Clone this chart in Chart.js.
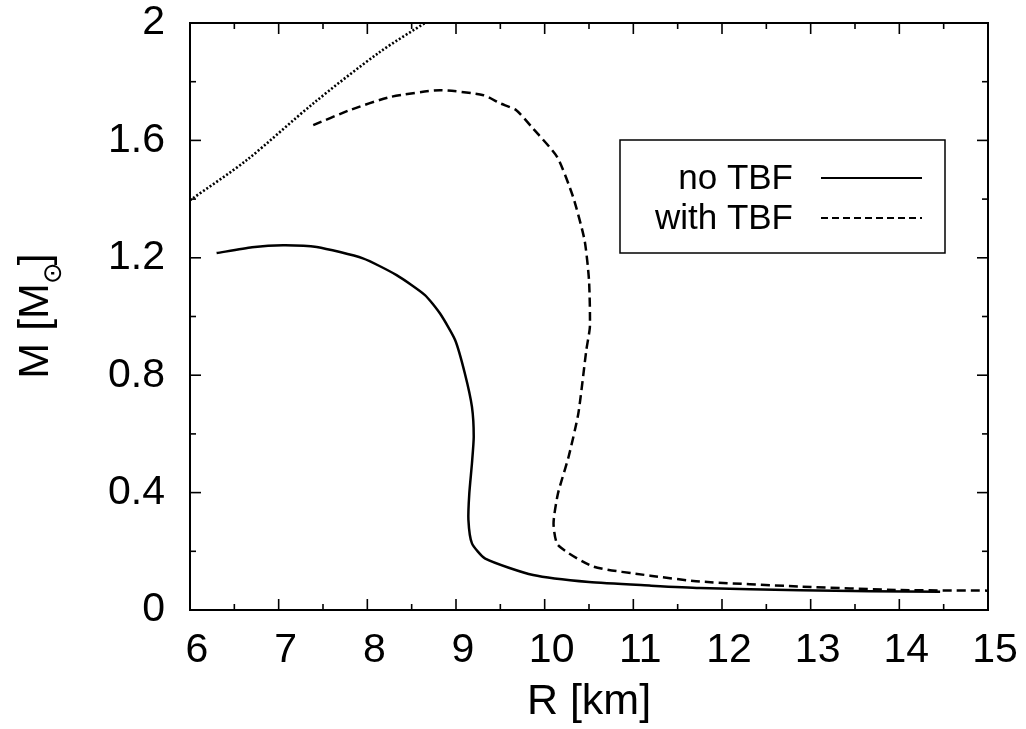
<!DOCTYPE html>
<html>
<head>
<meta charset="utf-8">
<title>Mass-radius relation</title>
<script src="https://cdn.jsdelivr.net/npm/chart.js@4.4.1/dist/chart.umd.min.js"></script>
<style>
  html, body { margin: 0; padding: 0; background: #fff; }
  #wrap { width: 1026px; height: 729px; position: relative; }
</style>
</head>
<body>
<div id="wrap"><canvas id="mrChart"></canvas></div>
<script>
const FONT = '"Liberation Sans", Arial, Helvetica, sans-serif';

// Radius [km] / mass [Msun]
const noTbfR = [6.30, 6.70, 7.05, 7.43, 7.95, 8.33, 8.65, 8.82, 8.99, 9.10, 9.18, 9.20, 9.18, 9.15, 9.14, 9.18, 9.33, 9.87, 10.50, 11.20, 11.75, 12.88, 14.46];
const noTbfM = [1.216, 1.236, 1.243, 1.237, 1.198, 1.141, 1.073, 1.010, 0.920, 0.806, 0.692, 0.590, 0.500, 0.397, 0.307, 0.227, 0.175, 0.119, 0.095, 0.083, 0.075, 0.067, 0.062];

const withTbfR = [7.39, 7.80, 8.26, 8.82, 9.31, 9.50, 9.68, 9.87, 10.14, 10.32, 10.45, 10.50, 10.51, 10.47, 10.38, 10.27, 10.15, 10.10, 10.15, 10.55, 11.19, 11.75, 12.88, 14.01, 14.99];
const withTbfM = [1.652, 1.703, 1.748, 1.771, 1.754, 1.726, 1.703, 1.640, 1.544, 1.408, 1.260, 1.124, 0.965, 0.886, 0.670, 0.522, 0.397, 0.295, 0.221, 0.148, 0.117, 0.097, 0.080, 0.068, 0.066];

// dotted limit line in the upper left corner
const limitR = [6.00, 6.64, 7.39, 8.14, 8.67];
const limitM = [1.396, 1.533, 1.726, 1.901, 2.004];

const seriesLabels = ['no TBF', 'with TBF'];

const xTickValues = [6, 7, 8, 9, 10, 11, 12, 13, 14, 15];
const xMinorTicks = [6.5, 7.5, 8.5, 9.5, 10.5, 11.5, 12.5, 13.5, 14.5];
const yTickValues = [0, 0.4, 0.8, 1.2, 1.6, 2];
const yMinorTicks = [0.2, 0.6, 1.0, 1.4, 1.8];

const toPoints = (xs, ys) => xs.map((x, i) => ({ x: x, y: ys[i] }));

// gnuplot style frame with inward ticks on all four sides
const framePlugin = {
    id: 'frameTicks',
    afterDatasetsDraw(chart) {
        const c = chart.ctx;
        const a = chart.chartArea;
        const xs = chart.scales.x;
        const ys = chart.scales.y;
        c.save();
        c.strokeStyle = '#000';
        c.lineWidth = 1.6;
        const tick = (x1, y1, x2, y2) => {
            c.beginPath();
            c.moveTo(x1, y1);
            c.lineTo(x2, y2);
            c.stroke();
        };
        const xMarks = xTickValues.map(v => [v, 11]).concat(xMinorTicks.map(v => [v, 6]));
        xMarks.forEach(([v, len]) => {
            const px = xs.getPixelForValue(v);
            tick(px, a.bottom, px, a.bottom - len);
            tick(px, a.top, px, a.top + len);
        });
        const yMarks = yTickValues.map(v => [v, 11]).concat(yMinorTicks.map(v => [v, 6]));
        yMarks.forEach(([v, len]) => {
            const py = ys.getPixelForValue(v);
            tick(a.left, py, a.left + len, py);
            tick(a.right, py, a.right - len, py);
        });
        c.lineWidth = 2;
        c.strokeRect(a.left, a.top, a.right - a.left, a.bottom - a.top);
        c.restore();
    }
};

// boxed legend, text on the left and line sample on the right
const legendPlugin = {
    id: 'boxLegend',
    afterDraw(chart) {
        const c = chart.ctx;
        c.save();
        c.strokeStyle = '#000';
        c.lineWidth = 1.5;
        c.strokeRect(620, 140, 325, 113);
        c.fillStyle = '#000';
        c.font = `35px ${FONT}`;
        c.textAlign = 'right';
        c.textBaseline = 'middle';
        const rows = [178, 218];
        chart.data.datasets.slice(0, 2).forEach((ds, i) => {
            c.fillText(ds.label, 793, rows[i] + 1);
            c.beginPath();
            c.lineWidth = 2.2;
            c.setLineDash(i === 0 ? [] : [7, 4]);
            c.moveTo(821, rows[i]);
            c.lineTo(922, rows[i]);
            c.stroke();
        });
        c.restore();
    }
};

// y title with the solar symbol as subscript
const yTitlePlugin = {
    id: 'yTitle',
    afterDraw(chart) {
        const c = chart.ctx;
        const big = `43px ${FONT}`;
        const small = `26px "DejaVu Sans", ${FONT}`;
        c.save();
        c.translate(48, 316);
        c.rotate(-Math.PI / 2);
        c.fillStyle = '#000';
        c.textBaseline = 'alphabetic';
        c.textAlign = 'left';
        c.font = big;
        const w1 = c.measureText('M [M').width;
        const w3 = c.measureText(']').width;
        c.font = small;
        const w2 = c.measureText('\u2299').width;
        let x = -(w1 + w2 + w3 - 4) / 2;
        c.font = big;
        c.fillText('M [M', x, 0);
        x += w1 - 1;
        c.font = small;
        c.fillText('\u2299', x, 13);
        x += w2 - 3;
        c.font = big;
        c.fillText(']', x, 0);
        c.restore();
    }
};

const ctx = document.getElementById('mrChart').getContext('2d');
const chart = new Chart(ctx, {
    type: 'scatter',
    data: {
        datasets: [
            {
                label: seriesLabels[0],
                data: toPoints(noTbfR, noTbfM),
                showLine: true,
                borderColor: '#000',
                borderWidth: 2.5,
                pointRadius: 0,
                tension: 0.2
            },
            {
                label: seriesLabels[1],
                data: toPoints(withTbfR, withTbfM),
                showLine: true,
                borderColor: '#000',
                borderWidth: 2.5,
                borderDash: [9, 5],
                pointRadius: 0,
                tension: 0.2
            },
            {
                label: '',
                data: toPoints(limitR, limitM),
                showLine: true,
                borderColor: '#000',
                borderWidth: 2.6,
                borderDash: [2, 2],
                pointRadius: 0,
                tension: 0.3
            }
        ]
    },
    options: {
        responsive: true,
        maintainAspectRatio: false,
        animation: false,
        layout: { padding: { left: 0, top: 23, right: 38, bottom: 0 } },
        plugins: {
            legend: { display: false },
            tooltip: { enabled: false }
        },
        scales: {
            x: {
                type: 'linear',
                min: 6,
                max: 15,
                grid: { display: false, drawTicks: false },
                border: { display: false },
                afterBuildTicks: s => { s.ticks = xTickValues.map(v => ({ value: v })); },
                afterFit: s => {
                    s.height = 119;
                    s.paddingLeft = 0;
                    s.paddingRight = 0;
                },
                ticks: {
                    color: '#000',
                    font: { family: FONT, size: 41, lineHeight: 1 },
                    padding: 20,
                    labelOffset: 7,
                    maxRotation: 0,
                    autoSkip: false,
                    callback: v => String(v)
                },
                title: {
                    display: true,
                    text: 'R [km]',
                    color: '#000',
                    font: { family: FONT, size: 43 },
                    padding: { top: 0, bottom: 1 }
                }
            },
            y: {
                type: 'linear',
                min: 0,
                max: 2,
                grid: { display: false, drawTicks: false },
                border: { display: false },
                afterBuildTicks: s => { s.ticks = yTickValues.map(v => ({ value: v })); },
                afterFit: s => {
                    s.width = 190;
                    s.paddingTop = 0;
                    s.paddingBottom = 0;
                },
                ticks: {
                    color: '#000',
                    font: { family: FONT, size: 41, lineHeight: 1 },
                    padding: 25,
                    autoSkip: false,
                    callback: v => String(Math.round(v * 10) / 10)
                }
            }
        }
    },
    plugins: [framePlugin, legendPlugin, yTitlePlugin]
});
</script>
</body>
</html>
